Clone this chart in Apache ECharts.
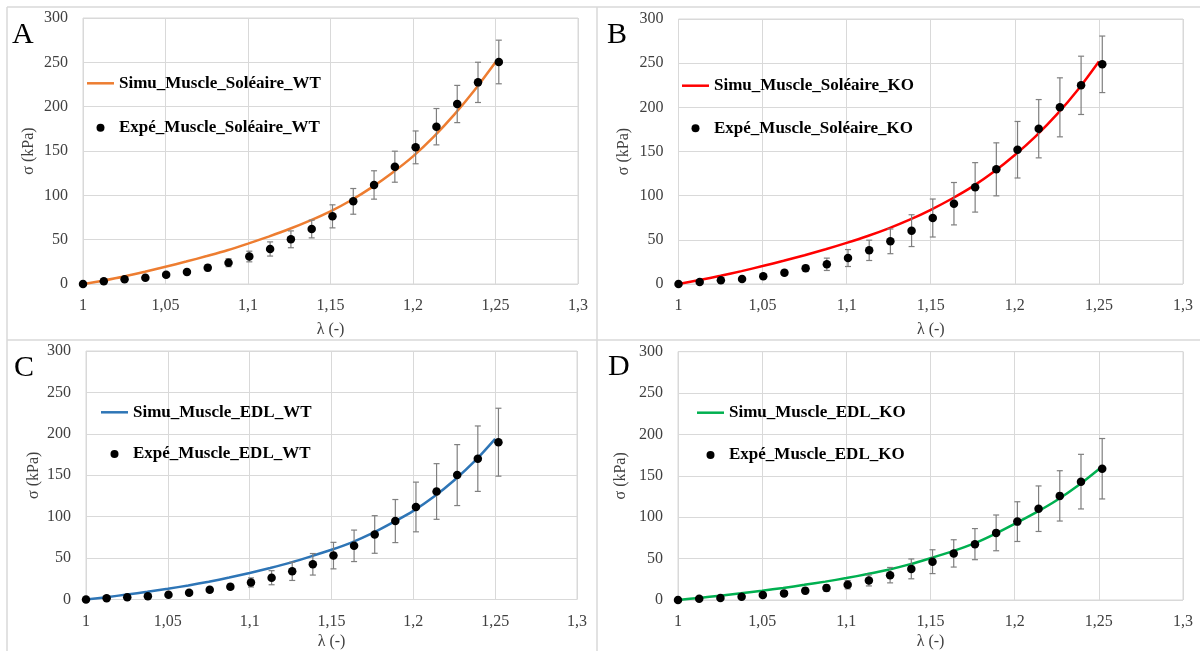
<!DOCTYPE html>
<html>
<head>
<meta charset="utf-8">
<script src="https://cdn.jsdelivr.net/npm/echarts@6/dist/echarts.min.js"></script>
<style>html,body{margin:0;padding:0;background:#fff;}#chart{width:1200px;height:651px;}</style>
</head>
<body>
<div id="chart"></div>
<script>
// ---------- data ----------
const lambdaExp = [1, 1.0126, 1.0252, 1.0378, 1.0504, 1.063, 1.0756, 1.0882, 1.1008, 1.1134, 1.126,
  1.1386, 1.1512, 1.1638, 1.1764, 1.189, 1.2016, 1.2142, 1.2268, 1.2394, 1.252];
const lambdaSim = [1, 1.0125, 1.025, 1.0375, 1.05, 1.0625, 1.075, 1.0875, 1.1, 1.1125, 1.125,
  1.1375, 1.15, 1.1625, 1.175, 1.1875, 1.2, 1.2125, 1.225, 1.2375, 1.25];

const simA = [0, 4, 8.5, 13.8, 19.5, 25.3, 31.5, 38, 45.5, 53.5, 62, 71.5, 82, 94.5, 109, 125.5, 144, 166, 191, 219, 250];
const expA = [0, 3, 5.3, 7, 10.5, 13.5, 18.4, 24, 31, 39.5, 50.4, 62, 76.3, 93.2, 111.7, 132.3, 154.1, 177.4, 203, 227.4, 250.4];
const errA = [0.5, 1, 1.5, 2, 2.5, 3, 3.5, 4.5, 6, 8, 9.5, 10, 13, 14.5, 16, 17.5, 18.5, 20.5, 21, 22.7, 24.6];

const simB = [0, 4.5, 9.3, 14.6, 20.3, 26.3, 32.6, 39.3, 46.5, 54.3, 63, 72.8, 84, 96.5, 110.5, 127, 146, 167.5, 192, 220, 252];
const expB = [0, 2.3, 4.2, 5.7, 8.7, 12.8, 17.7, 22.3, 29.4, 38.1, 48.3, 60.4, 74.7, 90.9, 109.4, 129.8, 152, 175.8, 200, 224.9, 248.7];
const errB = [0.5, 1, 1.5, 2, 2.5, 3, 3.5, 7, 9.6, 11.5, 14, 18, 21.5, 24, 28, 30, 32, 33, 33.4, 33, 32];

const simC = [0, 2.8, 6, 9.3, 13, 17, 21.5, 26.5, 32, 38, 44.5, 52, 60, 69, 80, 93, 107, 124, 144, 167, 194];
const expC = [0, 1.6, 2.8, 4, 5.7, 8.1, 11.7, 15.4, 20.6, 26.3, 34, 42.5, 53, 64.8, 78.5, 94.7, 111.7, 130.4, 150.2, 170, 189.9];
const errC = [0.5, 0.8, 1, 1.5, 2, 2.5, 3, 3.2, 5.5, 8.5, 11, 13, 16, 19, 22.7, 26, 30, 33.6, 36.8, 39.5, 41];

const simD = [0, 2.5, 5.2, 8.1, 11.2, 14.6, 18.3, 22.2, 26.5, 31.3, 36.6, 43, 50.5, 58.5, 67.5, 79, 92, 105.5, 120.5, 138, 158];
const expD = [0, 1.6, 2.4, 4, 6, 8, 11.2, 14.4, 18.4, 23.6, 30, 37.6, 46.3, 56.3, 67.5, 81.1, 94.7, 110.3, 125.8, 143, 158.6];
const errD = [0.5, 0.8, 1, 1.5, 2, 2.5, 3.5, 4, 5, 6.6, 9.3, 12, 14.4, 16.5, 18.8, 21.6, 24, 27.5, 30.4, 33, 36.5];

const panelLetters = ['A', 'B', 'C', 'D'];
const simNames = ['Simu_Muscle_Soléaire_WT', 'Simu_Muscle_Soléaire_KO', 'Simu_Muscle_EDL_WT', 'Simu_Muscle_EDL_KO'];
const expNames = ['Expé_Muscle_Soléaire_WT', 'Expé_Muscle_Soléaire_KO', 'Expé_Muscle_EDL_WT', 'Expé_Muscle_EDL_KO'];
const xAxisName = 'λ (-)';
const yAxisName = 'σ (kPa)';

// ---------- layout / style ----------
const SERIF = "'Liberation Serif', 'DejaVu Serif', serif";
const colors = ['#ED7D31', '#FF0000', '#2E75B6', '#00B050'];
const grids = [
  {left: 83, top: 18, width: 495, height: 266},
  {left: 678.5, top: 19, width: 504.5, height: 265},
  {left: 86, top: 351, width: 491, height: 248.5},
  {left: 678, top: 351.7, width: 505, height: 250.3}
];
const xNameGap = [38, 38, 34, 34];
const yNameGap = [46, 47, 44, 49];
const legendPos = [
  {left: 87, top: 73.3, gap: 24.4},
  {left: 682, top: 75.7, gap: 22.6},
  {left: 101, top: 402.3, gap: 21.7},
  {left: 697, top: 402.7, gap: 22.3}
];
const letterPos = [[12, 35], [607, 35], [14, 368], [608, 367]];

const sims = [simA, simB, simC, simD];
const exps = [expA, expB, expC, expD];
const errs = [errA, errB, errC, errD];

const fmtX = v => String(+(+v).toFixed(2)).replace('.', ',');

const option = {
  animation: false,
  backgroundColor: '#fff',
  grid: grids.map(g => Object.assign({show: true, borderColor: '#d9d9d9', borderWidth: 1, backgroundColor: 'transparent'}, g)),
  xAxis: grids.map((g, i) => ({
    type: 'value', gridIndex: i, min: 1, max: 1.3, interval: 0.05,
    name: xAxisName, nameLocation: 'middle', nameGap: xNameGap[i],
    nameTextStyle: {fontFamily: SERIF, fontSize: 16, color: '#404040'},
    axisLine: {show: false}, axisTick: {show: false},
    axisLabel: {formatter: fmtX, fontFamily: SERIF, fontSize: 16, color: '#404040', margin: 14},
    splitLine: {show: true, lineStyle: {color: '#d9d9d9', width: 1}}
  })),
  yAxis: grids.map((g, i) => ({
    type: 'value', gridIndex: i, min: 0, max: 300, interval: 50,
    name: yAxisName, nameLocation: 'middle', nameGap: yNameGap[i],
    nameTextStyle: {fontFamily: SERIF, fontSize: 16, color: '#404040'},
    axisLine: {show: false}, axisTick: {show: false},
    axisLabel: {fontFamily: SERIF, fontSize: 16, color: '#404040', margin: 15},
    splitLine: {show: true, lineStyle: {color: '#d9d9d9', width: 1}}
  })),
  legend: legendPos.map((p, i) => ({
    orient: 'vertical', left: p.left, top: p.top, itemGap: p.gap, padding: 0,
    itemWidth: 27, itemHeight: 8,
    data: [{name: simNames[i], icon: 'path://M0,0H27V2.5H0Z'}, {name: expNames[i], icon: 'circle'}],
    textStyle: {fontFamily: SERIF, fontSize: 17, fontWeight: 'bold', color: '#000', lineHeight: 20},
    selectedMode: false
  })),
  graphic: [
    {type: 'line', shape: {x1: 7, y1: 7, x2: 1200, y2: 7}, style: {stroke: '#d9d9d9', lineWidth: 1.5}, silent: true},
    {type: 'line', shape: {x1: 7, y1: 7, x2: 7, y2: 651}, style: {stroke: '#d9d9d9', lineWidth: 1.5}, silent: true},
    {type: 'line', shape: {x1: 597, y1: 7, x2: 597, y2: 651}, style: {stroke: '#d9d9d9', lineWidth: 1.5}, silent: true},
    {type: 'line', shape: {x1: 7, y1: 340, x2: 1200, y2: 340}, style: {stroke: '#d9d9d9', lineWidth: 1.5}, silent: true}
  ].concat(panelLetters.map((t, i) => ({
    type: 'text', left: letterPos[i][0], top: letterPos[i][1] - 15, silent: true,
    style: {text: t, fontFamily: SERIF, fontSize: 30, fill: '#000', verticalAlign: 'top'}
  }))),
  series: []
};

for (let i = 0; i < 4; i++) {
  option.series.push({
    name: simNames[i], type: 'line', xAxisIndex: i, yAxisIndex: i,
    data: lambdaSim.map((x, k) => [x, sims[i][k]]),
    smooth: 0.3, symbol: 'none', showSymbol: false,
    lineStyle: {color: colors[i], width: 2.5}, itemStyle: {color: colors[i]}, z: 2
  });
  option.series.push({
    name: 'err' + i, type: 'custom', xAxisIndex: i, yAxisIndex: i,
    data: lambdaExp.map((x, k) => [x, exps[i][k], errs[i][k]]),
    encode: {x: 0, y: 1}, z: 3, silent: true,
    renderItem: function (params, api) {
      const x = api.value(0), y = api.value(1), e = api.value(2);
      const top = api.coord([x, y + e]);
      const bot = api.coord([x, y - e]);
      const cw = 3;
      const st = {stroke: '#7f7f7f', lineWidth: 1.2};
      return {type: 'group', children: [
        {type: 'line', shape: {x1: top[0], y1: top[1], x2: bot[0], y2: bot[1]}, style: st},
        {type: 'line', shape: {x1: top[0] - cw, y1: top[1], x2: top[0] + cw, y2: top[1]}, style: st},
        {type: 'line', shape: {x1: bot[0] - cw, y1: bot[1], x2: bot[0] + cw, y2: bot[1]}, style: st}
      ]};
    }
  });
  option.series.push({
    name: expNames[i], type: 'scatter', xAxisIndex: i, yAxisIndex: i,
    data: lambdaExp.map((x, k) => [x, exps[i][k]]),
    symbol: 'circle', symbolSize: 8.5, itemStyle: {color: '#000', opacity: 1}, z: 4
  });
}

const chart = echarts.init(document.getElementById('chart'), null, {renderer: 'canvas'});
chart.setOption(option);
</script>
</body>
</html>
